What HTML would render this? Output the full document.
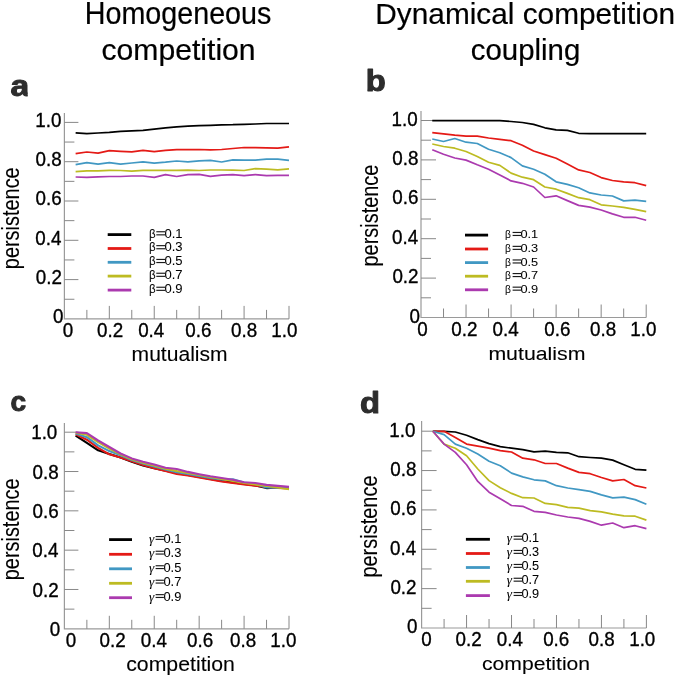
<!DOCTYPE html>
<html><head><meta charset="utf-8"><style>
html,body{margin:0;padding:0;background:#fff;}
body{width:675px;height:677px;overflow:hidden;}
svg{display:block;will-change:transform;font-family:"Liberation Sans", sans-serif;}
text{stroke:#000;stroke-width:0.35px;stroke-linejoin:round;}
text[font-weight]{stroke:none;}
.pl{stroke:#2d2d2d!important;stroke-width:1.0px;}
.lg{stroke-width:0.05px;}
.gm{font-family:"Liberation Serif",serif;font-style:italic;}
.ti{stroke-width:0.2px;}
.al{stroke-width:0.1px;}
</style></head><body>
<svg width="675" height="677" viewBox="0 0 675 677">
<rect width="675" height="677" fill="#fff"/>
<text class="ti" transform="translate(84.75,23.70) scale(0.9403,1)" font-size="30.52" fill="#000">Homogeneous</text>
<text class="ti" transform="translate(101.42,59.61) scale(1.0075,1)" font-size="29.94" fill="#000">competition</text>
<text class="ti" transform="translate(375.36,24.00) scale(0.9810,1)" font-size="30.38" fill="#000">Dynamical competition</text>
<text class="ti" transform="translate(470.75,59.70) scale(0.9874,1)" font-size="29.81" fill="#000">coupling</text>
<clipPath id="clipA"><rect x="0" y="60" width="27.70" height="50"/></clipPath>
<g clip-path="url(#clipA)"><text class="pl" transform="translate(10.61,96.12) scale(1.1699,1)" font-size="29.02" font-weight="bold" fill="#2d2d2d">a</text></g>
<text class="pl" transform="translate(365.64,90.52) scale(1.1396,1)" font-size="28.73" font-weight="bold" fill="#2d2d2d">b</text>
<text class="pl" transform="translate(10.50,411.43) scale(1.0123,1)" font-size="27.74" font-weight="bold" fill="#2d2d2d">c</text>
<text class="pl" transform="translate(359.96,413.42) scale(1.1343,1)" font-size="28.87" font-weight="bold" fill="#2d2d2d">d</text>
<path d="M64.40,113.00V318.90H289.00" fill="none" stroke="#9a9a9a" stroke-width="1.2"/>
<path d="M64.40,299.25h10M64.40,279.60h14M64.40,259.95h10M64.40,240.30h14M64.40,220.65h10M64.40,201.00h14M64.40,181.35h10M64.40,161.70h14M64.40,142.05h10M64.40,122.40h14M86.86,318.90v-9M109.32,318.90v-13M131.78,318.90v-9M154.24,318.90v-13M176.70,318.90v-9M199.16,318.90v-13M221.62,318.90v-9M244.08,318.90v-13M266.54,318.90v-9M289.00,318.90v-13" fill="none" stroke="#888888" stroke-width="1"/>
<path d="M421.00,111.00V317.50H646.20" fill="none" stroke="#9a9a9a" stroke-width="1.2"/>
<path d="M421.00,297.80h10M421.00,278.10h15M421.00,258.40h10M421.00,238.70h15M421.00,219.00h10M421.00,199.30h15M421.00,179.60h10M421.00,159.90h15M421.00,140.20h10M421.00,120.50h15M443.52,317.50v-9M466.04,317.50v-13M488.56,317.50v-9M511.08,317.50v-13M533.60,317.50v-9M556.12,317.50v-13M578.64,317.50v-9M601.16,317.50v-13M623.68,317.50v-9M646.20,317.50v-13" fill="none" stroke="#888888" stroke-width="1"/>
<path d="M64.40,423.00V628.80H289.00" fill="none" stroke="#9a9a9a" stroke-width="1.2"/>
<path d="M64.40,609.14h10M64.40,589.48h14M64.40,569.82h10M64.40,550.16h14M64.40,530.50h10M64.40,510.84h14M64.40,491.18h10M64.40,471.52h14M64.40,451.86h10M64.40,432.20h14M86.86,628.80v-9M109.32,628.80v-13M131.78,628.80v-9M154.24,628.80v-13M176.70,628.80v-9M199.16,628.80v-13M221.62,628.80v-9M244.08,628.80v-13M266.54,628.80v-9M289.00,628.80v-13" fill="none" stroke="#888888" stroke-width="1"/>
<path d="M421.60,421.00V628.00H646.40" fill="none" stroke="#9a9a9a" stroke-width="1.2"/>
<path d="M421.60,608.32h10M421.60,588.64h15M421.60,568.96h10M421.60,549.28h15M421.60,529.60h10M421.60,509.92h15M421.60,490.24h10M421.60,470.56h15M421.60,450.88h10M421.60,431.20h15M444.08,628.00v-9M466.56,628.00v-13M489.04,628.00v-9M511.52,628.00v-13M534.00,628.00v-9M556.48,628.00v-13M578.96,628.00v-9M601.44,628.00v-13M623.92,628.00v-9M646.40,628.00v-13" fill="none" stroke="#888888" stroke-width="1"/>
<text transform="translate(53.07,323.20) scale(0.9600,1)" font-size="19.60" fill="#000">0</text>
<text transform="translate(35.69,283.90) scale(0.9600,1)" font-size="19.60" fill="#000">0.2</text>
<text transform="translate(35.29,244.60) scale(0.9600,1)" font-size="19.60" fill="#000">0.4</text>
<text transform="translate(35.57,205.30) scale(0.9600,1)" font-size="19.60" fill="#000">0.6</text>
<text transform="translate(35.56,166.00) scale(0.9600,1)" font-size="19.60" fill="#000">0.8</text>
<text transform="translate(35.28,126.70) scale(0.9600,1)" font-size="19.60" fill="#000">1.0</text>
<text transform="translate(409.47,322.50) scale(0.9600,1)" font-size="19.60" fill="#000">0</text>
<text transform="translate(392.39,283.10) scale(0.9600,1)" font-size="19.60" fill="#000">0.2</text>
<text transform="translate(391.99,243.70) scale(0.9600,1)" font-size="19.60" fill="#000">0.4</text>
<text transform="translate(392.27,204.30) scale(0.9600,1)" font-size="19.60" fill="#000">0.6</text>
<text transform="translate(392.26,164.90) scale(0.9600,1)" font-size="19.60" fill="#000">0.8</text>
<text transform="translate(391.58,125.50) scale(0.9600,1)" font-size="19.60" fill="#000">1.0</text>
<text transform="translate(49.87,635.90) scale(0.9600,1)" font-size="19.60" fill="#000">0</text>
<text transform="translate(32.59,596.58) scale(0.9600,1)" font-size="19.60" fill="#000">0.2</text>
<text transform="translate(32.19,557.26) scale(0.9600,1)" font-size="19.60" fill="#000">0.4</text>
<text transform="translate(32.47,517.94) scale(0.9600,1)" font-size="19.60" fill="#000">0.6</text>
<text transform="translate(32.46,478.62) scale(0.9600,1)" font-size="19.60" fill="#000">0.8</text>
<text transform="translate(31.18,439.30) scale(0.9600,1)" font-size="19.60" fill="#000">1.0</text>
<text transform="translate(407.07,633.40) scale(0.9600,1)" font-size="19.60" fill="#000">0</text>
<text transform="translate(390.39,594.04) scale(0.9600,1)" font-size="19.60" fill="#000">0.2</text>
<text transform="translate(389.99,554.68) scale(0.9600,1)" font-size="19.60" fill="#000">0.4</text>
<text transform="translate(390.27,515.32) scale(0.9600,1)" font-size="19.60" fill="#000">0.6</text>
<text transform="translate(390.26,475.96) scale(0.9600,1)" font-size="19.60" fill="#000">0.8</text>
<text transform="translate(389.28,436.60) scale(0.9600,1)" font-size="19.60" fill="#000">1.0</text>
<text transform="translate(62.77,336.61) scale(0.9600,1)" font-size="19.60" fill="#000">0</text>
<text transform="translate(96.97,336.61) scale(0.9600,1)" font-size="19.60" fill="#000">0.2</text>
<text transform="translate(138.16,336.61) scale(0.9600,1)" font-size="19.60" fill="#000">0.4</text>
<text transform="translate(185.26,336.61) scale(0.9600,1)" font-size="19.60" fill="#000">0.6</text>
<text transform="translate(231.06,336.61) scale(0.9600,1)" font-size="19.60" fill="#000">0.8</text>
<text transform="translate(271.27,336.61) scale(0.9600,1)" font-size="19.60" fill="#000">1.0</text>
<text transform="translate(417.26,335.81) scale(0.9600,1)" font-size="19.60" fill="#000">0</text>
<text transform="translate(451.37,335.81) scale(0.9600,1)" font-size="19.60" fill="#000">0.2</text>
<text transform="translate(492.46,335.81) scale(0.9600,1)" font-size="19.60" fill="#000">0.4</text>
<text transform="translate(544.26,335.81) scale(0.9600,1)" font-size="19.60" fill="#000">0.6</text>
<text transform="translate(589.97,335.81) scale(0.9600,1)" font-size="19.60" fill="#000">0.8</text>
<text transform="translate(630.27,335.81) scale(0.9600,1)" font-size="19.60" fill="#000">1.0</text>
<text transform="translate(65.86,647.01) scale(0.9600,1)" font-size="19.60" fill="#000">0</text>
<text transform="translate(99.56,647.01) scale(0.9600,1)" font-size="19.60" fill="#000">0.2</text>
<text transform="translate(140.86,647.01) scale(0.9600,1)" font-size="19.60" fill="#000">0.4</text>
<text transform="translate(186.96,647.01) scale(0.9600,1)" font-size="19.60" fill="#000">0.6</text>
<text transform="translate(229.96,647.01) scale(0.9600,1)" font-size="19.60" fill="#000">0.8</text>
<text transform="translate(270.27,647.01) scale(0.9600,1)" font-size="19.60" fill="#000">1.0</text>
<text transform="translate(421.37,645.91) scale(0.9600,1)" font-size="19.60" fill="#000">0</text>
<text transform="translate(455.46,645.91) scale(0.9600,1)" font-size="19.60" fill="#000">0.2</text>
<text transform="translate(496.76,645.91) scale(0.9600,1)" font-size="19.60" fill="#000">0.4</text>
<text transform="translate(543.16,645.91) scale(0.9600,1)" font-size="19.60" fill="#000">0.6</text>
<text transform="translate(588.56,645.91) scale(0.9600,1)" font-size="19.60" fill="#000">0.8</text>
<text transform="translate(629.17,645.91) scale(0.9600,1)" font-size="19.60" fill="#000">1.0</text>
<text class="al" transform="translate(131.60,361.00) scale(1.0703,1)" font-size="19.70" fill="#000">mutualism</text>
<text class="al" transform="translate(488.38,359.70) scale(1.1242,1)" font-size="18.96" fill="#000">mutualism</text>
<text class="al" transform="translate(126.20,670.61) scale(1.0891,1)" font-size="19.53" fill="#000">competition</text>
<text class="al" transform="translate(482.00,670.01) scale(1.1036,1)" font-size="19.17" fill="#000">competition</text>
<text class="al" transform="translate(18.67,269.18) rotate(-90) scale(0.8593,1)" font-size="23.18">persistence</text>
<text class="al" transform="translate(377.57,266.49) rotate(-90) scale(0.8601,1)" font-size="23.18">persistence</text>
<text class="al" transform="translate(19.37,580.29) rotate(-90) scale(0.8601,1)" font-size="23.18">persistence</text>
<text class="al" transform="translate(377.47,577.59) rotate(-90) scale(0.8355,1)" font-size="23.91">persistence</text>
<line x1="107.70" y1="234.60" x2="131.30" y2="234.60" stroke="#000000" stroke-width="2.8"/>
<text class="lg" transform="translate(148.90,237.57) scale(0.9,1)" font-size="12.86">β</text>
<rect x="156.30" y="231.17" width="8.70" height="1.15" fill="#1a1a1a"/>
<rect x="156.30" y="234.27" width="8.70" height="1.15" fill="#1a1a1a"/>
<text class="lg" transform="translate(164.49,237.57) scale(1.0154,1)" font-size="12.86">0.1</text>
<line x1="107.70" y1="248.50" x2="131.30" y2="248.50" stroke="#e41a16" stroke-width="2.8"/>
<text class="lg" transform="translate(148.90,251.47) scale(0.9,1)" font-size="12.86">β</text>
<rect x="156.30" y="245.07" width="8.70" height="1.15" fill="#1a1a1a"/>
<rect x="156.30" y="248.17" width="8.70" height="1.15" fill="#1a1a1a"/>
<text class="lg" transform="translate(164.49,251.47) scale(1.0154,1)" font-size="12.86">0.3</text>
<line x1="107.70" y1="262.30" x2="131.30" y2="262.30" stroke="#4198c3" stroke-width="2.8"/>
<text class="lg" transform="translate(148.90,265.27) scale(0.9,1)" font-size="12.86">β</text>
<rect x="156.30" y="258.87" width="8.70" height="1.15" fill="#1a1a1a"/>
<rect x="156.30" y="261.97" width="8.70" height="1.15" fill="#1a1a1a"/>
<text class="lg" transform="translate(164.49,265.27) scale(1.0154,1)" font-size="12.86">0.5</text>
<line x1="107.70" y1="276.10" x2="131.30" y2="276.10" stroke="#bdbb22" stroke-width="2.8"/>
<text class="lg" transform="translate(148.90,279.07) scale(0.9,1)" font-size="12.86">β</text>
<rect x="156.30" y="272.67" width="8.70" height="1.15" fill="#1a1a1a"/>
<rect x="156.30" y="275.77" width="8.70" height="1.15" fill="#1a1a1a"/>
<text class="lg" transform="translate(164.49,279.07) scale(1.0154,1)" font-size="12.86">0.7</text>
<line x1="107.70" y1="290.10" x2="131.30" y2="290.10" stroke="#ab3aaf" stroke-width="2.8"/>
<text class="lg" transform="translate(148.90,293.07) scale(0.9,1)" font-size="12.86">β</text>
<rect x="156.30" y="286.67" width="8.70" height="1.15" fill="#1a1a1a"/>
<rect x="156.30" y="289.77" width="8.70" height="1.15" fill="#1a1a1a"/>
<text class="lg" transform="translate(164.49,293.07) scale(1.0154,1)" font-size="12.86">0.9</text>
<line x1="465.00" y1="235.10" x2="488.10" y2="235.10" stroke="#000000" stroke-width="2.8"/>
<text class="lg" transform="translate(504.99,238.19) scale(0.9,1)" font-size="11.30">β</text>
<rect x="512.60" y="231.89" width="8.40" height="1.15" fill="#1a1a1a"/>
<rect x="512.60" y="234.89" width="8.40" height="1.15" fill="#1a1a1a"/>
<text class="lg" transform="translate(520.50,238.19) scale(1.1278,1)" font-size="11.30">0.1</text>
<line x1="465.00" y1="249.00" x2="488.10" y2="249.00" stroke="#e41a16" stroke-width="2.8"/>
<text class="lg" transform="translate(504.99,252.09) scale(0.9,1)" font-size="11.30">β</text>
<rect x="512.60" y="245.79" width="8.40" height="1.15" fill="#1a1a1a"/>
<rect x="512.60" y="248.79" width="8.40" height="1.15" fill="#1a1a1a"/>
<text class="lg" transform="translate(520.50,252.09) scale(1.1278,1)" font-size="11.30">0.3</text>
<line x1="465.00" y1="262.60" x2="488.10" y2="262.60" stroke="#4198c3" stroke-width="2.8"/>
<text class="lg" transform="translate(504.99,265.69) scale(0.9,1)" font-size="11.30">β</text>
<rect x="512.60" y="259.39" width="8.40" height="1.15" fill="#1a1a1a"/>
<rect x="512.60" y="262.39" width="8.40" height="1.15" fill="#1a1a1a"/>
<text class="lg" transform="translate(520.50,265.69) scale(1.1278,1)" font-size="11.30">0.5</text>
<line x1="465.00" y1="276.20" x2="488.10" y2="276.20" stroke="#bdbb22" stroke-width="2.8"/>
<text class="lg" transform="translate(504.99,279.29) scale(0.9,1)" font-size="11.30">β</text>
<rect x="512.60" y="272.99" width="8.40" height="1.15" fill="#1a1a1a"/>
<rect x="512.60" y="275.99" width="8.40" height="1.15" fill="#1a1a1a"/>
<text class="lg" transform="translate(520.50,279.29) scale(1.1278,1)" font-size="11.30">0.7</text>
<line x1="465.00" y1="289.80" x2="488.10" y2="289.80" stroke="#ab3aaf" stroke-width="2.8"/>
<text class="lg" transform="translate(504.99,292.89) scale(0.9,1)" font-size="11.30">β</text>
<rect x="512.60" y="286.59" width="8.40" height="1.15" fill="#1a1a1a"/>
<rect x="512.60" y="289.59" width="8.40" height="1.15" fill="#1a1a1a"/>
<text class="lg" transform="translate(520.50,292.89) scale(1.1278,1)" font-size="11.30">0.9</text>
<line x1="109.10" y1="539.60" x2="132.00" y2="539.60" stroke="#000000" stroke-width="2.8"/>
<text class="lg gm" transform="translate(149.00,542.58)" font-size="13.35">γ</text>
<rect x="155.60" y="535.98" width="8.30" height="1.15" fill="#1a1a1a"/>
<rect x="155.60" y="538.78" width="8.30" height="1.15" fill="#1a1a1a"/>
<text class="lg" transform="translate(163.40,542.58) scale(1.0146,1)" font-size="12.72">0.1</text>
<line x1="109.10" y1="554.30" x2="132.00" y2="554.30" stroke="#e41a16" stroke-width="2.8"/>
<text class="lg gm" transform="translate(149.00,557.28)" font-size="13.35">γ</text>
<rect x="155.60" y="550.68" width="8.30" height="1.15" fill="#1a1a1a"/>
<rect x="155.60" y="553.48" width="8.30" height="1.15" fill="#1a1a1a"/>
<text class="lg" transform="translate(163.40,557.28) scale(1.0146,1)" font-size="12.72">0.3</text>
<line x1="109.10" y1="568.80" x2="132.00" y2="568.80" stroke="#4198c3" stroke-width="2.8"/>
<text class="lg gm" transform="translate(149.00,571.78)" font-size="13.35">γ</text>
<rect x="155.60" y="565.18" width="8.30" height="1.15" fill="#1a1a1a"/>
<rect x="155.60" y="567.98" width="8.30" height="1.15" fill="#1a1a1a"/>
<text class="lg" transform="translate(163.40,571.78) scale(1.0146,1)" font-size="12.72">0.5</text>
<line x1="109.10" y1="583.30" x2="132.00" y2="583.30" stroke="#bdbb22" stroke-width="2.8"/>
<text class="lg gm" transform="translate(149.00,586.28)" font-size="13.35">γ</text>
<rect x="155.60" y="579.68" width="8.30" height="1.15" fill="#1a1a1a"/>
<rect x="155.60" y="582.48" width="8.30" height="1.15" fill="#1a1a1a"/>
<text class="lg" transform="translate(163.40,586.28) scale(1.0146,1)" font-size="12.72">0.7</text>
<line x1="109.10" y1="597.70" x2="132.00" y2="597.70" stroke="#ab3aaf" stroke-width="2.8"/>
<text class="lg gm" transform="translate(149.00,600.68)" font-size="13.35">γ</text>
<rect x="155.60" y="594.08" width="8.30" height="1.15" fill="#1a1a1a"/>
<rect x="155.60" y="596.88" width="8.30" height="1.15" fill="#1a1a1a"/>
<text class="lg" transform="translate(163.40,600.68) scale(1.0146,1)" font-size="12.72">0.9</text>
<line x1="465.90" y1="539.30" x2="489.90" y2="539.30" stroke="#000000" stroke-width="2.8"/>
<text class="lg gm" transform="translate(506.70,542.18)" font-size="13.35">γ</text>
<rect x="513.60" y="535.68" width="8.40" height="1.15" fill="#1a1a1a"/>
<rect x="513.60" y="538.58" width="8.40" height="1.15" fill="#1a1a1a"/>
<text class="lg" transform="translate(521.50,542.18) scale(1.0025,1)" font-size="12.72">0.1</text>
<line x1="465.90" y1="553.50" x2="489.90" y2="553.50" stroke="#e41a16" stroke-width="2.8"/>
<text class="lg gm" transform="translate(506.70,556.38)" font-size="13.35">γ</text>
<rect x="513.60" y="549.88" width="8.40" height="1.15" fill="#1a1a1a"/>
<rect x="513.60" y="552.78" width="8.40" height="1.15" fill="#1a1a1a"/>
<text class="lg" transform="translate(521.50,556.38) scale(1.0025,1)" font-size="12.72">0.3</text>
<line x1="465.90" y1="567.50" x2="489.90" y2="567.50" stroke="#4198c3" stroke-width="2.8"/>
<text class="lg gm" transform="translate(506.70,570.38)" font-size="13.35">γ</text>
<rect x="513.60" y="563.88" width="8.40" height="1.15" fill="#1a1a1a"/>
<rect x="513.60" y="566.78" width="8.40" height="1.15" fill="#1a1a1a"/>
<text class="lg" transform="translate(521.50,570.38) scale(1.0025,1)" font-size="12.72">0.5</text>
<line x1="465.90" y1="581.30" x2="489.90" y2="581.30" stroke="#bdbb22" stroke-width="2.8"/>
<text class="lg gm" transform="translate(506.70,584.18)" font-size="13.35">γ</text>
<rect x="513.60" y="577.68" width="8.40" height="1.15" fill="#1a1a1a"/>
<rect x="513.60" y="580.58" width="8.40" height="1.15" fill="#1a1a1a"/>
<text class="lg" transform="translate(521.50,584.18) scale(1.0025,1)" font-size="12.72">0.7</text>
<line x1="465.90" y1="595.60" x2="489.90" y2="595.60" stroke="#ab3aaf" stroke-width="2.8"/>
<text class="lg gm" transform="translate(506.70,598.48)" font-size="13.35">γ</text>
<rect x="513.60" y="591.98" width="8.40" height="1.15" fill="#1a1a1a"/>
<rect x="513.60" y="594.88" width="8.40" height="1.15" fill="#1a1a1a"/>
<text class="lg" transform="translate(521.50,598.48) scale(1.0025,1)" font-size="12.72">0.9</text>
<polyline points="75.63,132.80 86.86,133.60 98.09,133.00 109.32,132.30 120.55,131.30 131.78,130.90 143.01,130.40 154.24,129.10 165.47,127.90 176.70,126.80 187.93,126.20 199.16,125.70 210.39,125.30 221.62,124.80 232.85,124.70 244.08,124.30 255.31,124.00 266.54,123.50 277.77,123.50 289.00,123.50" fill="none" stroke="#000000" stroke-width="1.7" stroke-linejoin="round"/>
<polyline points="75.63,153.70 86.86,152.00 98.09,153.20 109.32,150.70 120.55,151.40 131.78,151.90 143.01,150.30 154.24,151.60 165.47,150.40 176.70,149.60 187.93,149.70 199.16,149.50 210.39,149.90 221.62,149.50 232.85,148.50 244.08,147.50 255.31,147.60 266.54,147.80 277.77,148.20 289.00,146.80" fill="none" stroke="#e41a16" stroke-width="1.7" stroke-linejoin="round"/>
<polyline points="75.63,164.60 86.86,162.60 98.09,164.10 109.32,162.60 120.55,164.10 131.78,163.00 143.01,161.80 154.24,163.10 165.47,162.20 176.70,161.00 187.93,161.80 199.16,160.90 210.39,160.40 221.62,162.00 232.85,159.90 244.08,160.10 255.31,160.10 266.54,159.10 277.77,159.20 289.00,160.30" fill="none" stroke="#4198c3" stroke-width="1.7" stroke-linejoin="round"/>
<polyline points="75.63,171.60 86.86,170.80 98.09,170.80 109.32,170.30 120.55,170.50 131.78,171.10 143.01,170.30 154.24,170.30 165.47,170.30 176.70,170.30 187.93,170.10 199.16,170.50 210.39,170.00 221.62,170.00 232.85,170.10 244.08,170.50 255.31,168.60 266.54,169.10 277.77,169.80 289.00,168.80" fill="none" stroke="#bdbb22" stroke-width="1.7" stroke-linejoin="round"/>
<polyline points="75.63,177.00 86.86,177.30 98.09,176.80 109.32,176.50 120.55,176.50 131.78,176.00 143.01,176.00 154.24,177.30 165.47,174.70 176.70,176.50 187.93,174.70 199.16,174.40 210.39,176.40 221.62,175.20 232.85,174.70 244.08,175.60 255.31,174.60 266.54,175.60 277.77,175.40 289.00,175.40" fill="none" stroke="#ab3aaf" stroke-width="1.7" stroke-linejoin="round"/>
<polyline points="432.26,120.60 443.52,120.60 454.78,120.60 466.04,120.60 477.30,120.60 488.56,120.60 499.82,120.60 511.08,121.50 522.34,122.50 533.60,124.40 544.86,127.80 556.12,129.90 567.38,130.40 578.64,133.30 589.90,133.60 601.16,133.60 612.42,133.60 623.68,133.60 634.94,133.60 646.20,133.60" fill="none" stroke="#000000" stroke-width="1.7" stroke-linejoin="round"/>
<polyline points="432.26,132.60 443.52,133.90 454.78,135.20 466.04,136.10 477.30,136.10 488.56,138.00 499.82,139.40 511.08,140.70 522.34,145.20 533.60,151.00 544.86,154.60 556.12,158.30 567.38,164.00 578.64,169.90 589.90,172.50 601.16,177.60 612.42,180.50 623.68,181.80 634.94,182.70 646.20,185.60" fill="none" stroke="#e41a16" stroke-width="1.7" stroke-linejoin="round"/>
<polyline points="432.26,139.00 443.52,141.50 454.78,138.50 466.04,142.20 477.30,143.50 488.56,149.30 499.82,152.70 511.08,157.60 522.34,165.90 533.60,169.20 544.86,174.20 556.12,181.80 567.38,184.40 578.64,187.80 589.90,192.90 601.16,195.00 612.42,196.00 623.68,200.90 634.94,200.20 646.20,201.40" fill="none" stroke="#4198c3" stroke-width="1.7" stroke-linejoin="round"/>
<polyline points="432.26,144.00 443.52,146.50 454.78,148.20 466.04,151.50 477.30,156.50 488.56,162.30 499.82,165.40 511.08,173.10 522.34,177.20 533.60,179.70 544.86,187.00 556.12,189.20 567.38,193.40 578.64,197.70 589.90,199.70 601.16,204.80 612.42,206.00 623.68,207.40 634.94,209.40 646.20,211.70" fill="none" stroke="#bdbb22" stroke-width="1.7" stroke-linejoin="round"/>
<polyline points="432.26,149.80 443.52,154.30 454.78,158.00 466.04,160.10 477.30,164.80 488.56,169.20 499.82,175.00 511.08,180.90 522.34,183.30 533.60,187.00 544.86,197.50 556.12,195.80 567.38,200.60 578.64,205.40 589.90,207.10 601.16,210.00 612.42,213.90 623.68,217.30 634.94,217.30 646.20,220.20" fill="none" stroke="#ab3aaf" stroke-width="1.7" stroke-linejoin="round"/>
<polyline points="75.63,435.60 86.86,442.90 98.09,450.30 109.32,454.00 120.55,457.60 131.78,461.70 143.01,465.40 154.24,468.20 165.47,470.60 176.70,473.10 187.93,475.00 199.16,477.00 210.39,479.00 221.62,481.00 232.85,482.50 244.08,484.00 255.31,485.50 266.54,488.10 277.77,487.50 289.00,487.80" fill="none" stroke="#000000" stroke-width="2.1" stroke-linejoin="round"/>
<polyline points="75.63,434.30 86.86,439.70 98.09,447.80 109.32,454.30 120.55,457.60 131.78,461.20 143.01,464.90 154.24,468.20 165.47,471.10 176.70,473.90 187.93,475.50 199.16,477.50 210.39,479.50 221.62,481.50 232.85,483.00 244.08,484.50 255.31,485.70 266.54,487.00 277.77,488.00 289.00,488.50" fill="none" stroke="#e41a16" stroke-width="2.1" stroke-linejoin="round"/>
<polyline points="75.63,433.50 86.86,437.20 98.09,445.40 109.32,451.10 120.55,455.20 131.78,460.00 143.01,463.60 154.24,466.60 165.47,469.50 176.70,472.30 187.93,474.00 199.16,476.00 210.39,478.00 221.62,479.50 232.85,479.20 244.08,482.50 255.31,484.00 266.54,487.50 277.77,487.80 289.00,487.50" fill="none" stroke="#4198c3" stroke-width="2.1" stroke-linejoin="round"/>
<polyline points="75.63,432.70 86.86,434.80 98.09,442.10 109.32,448.60 120.55,454.30 131.78,459.20 143.01,462.80 154.24,465.40 165.47,468.70 176.70,471.00 187.93,473.00 199.16,475.00 210.39,477.00 221.62,479.00 232.85,481.00 244.08,483.00 255.31,484.50 266.54,486.00 277.77,487.50 289.00,489.30" fill="none" stroke="#bdbb22" stroke-width="2.1" stroke-linejoin="round"/>
<polyline points="75.63,432.30 86.86,433.10 98.09,440.50 109.32,447.00 120.55,453.50 131.78,458.40 143.01,461.70 154.24,464.40 165.47,467.70 176.70,469.00 187.93,471.90 199.16,474.20 210.39,476.30 221.62,478.00 232.85,479.80 244.08,482.20 255.31,483.00 266.54,484.90 277.77,485.90 289.00,486.90" fill="none" stroke="#ab3aaf" stroke-width="2.1" stroke-linejoin="round"/>
<polyline points="432.84,431.30 444.08,431.30 455.32,432.00 466.56,435.30 477.80,439.60 489.04,443.60 500.28,446.60 511.52,448.20 522.76,449.60 534.00,451.90 545.24,451.10 556.48,452.40 567.72,452.80 578.96,456.70 590.20,457.50 601.44,458.20 612.68,460.10 623.92,464.70 635.16,469.30 646.40,470.20" fill="none" stroke="#000000" stroke-width="1.7" stroke-linejoin="round"/>
<polyline points="432.84,431.30 444.08,431.30 455.32,437.40 466.56,444.10 477.80,446.20 489.04,448.20 500.28,450.70 511.52,452.00 522.76,458.20 534.00,459.80 545.24,463.50 556.48,463.50 567.72,468.10 578.96,472.40 590.20,473.70 601.44,477.50 612.68,480.90 623.92,479.50 635.16,485.70 646.40,488.00" fill="none" stroke="#e41a16" stroke-width="1.7" stroke-linejoin="round"/>
<polyline points="432.84,431.30 444.08,434.60 455.32,444.10 466.56,448.20 477.80,454.00 489.04,461.20 500.28,465.70 511.52,473.10 522.76,476.90 534.00,479.80 545.24,480.90 556.48,485.70 567.72,488.00 578.96,489.70 590.20,491.40 601.44,494.90 612.68,497.90 623.92,497.10 635.16,499.60 646.40,504.20" fill="none" stroke="#4198c3" stroke-width="1.7" stroke-linejoin="round"/>
<polyline points="432.84,431.30 444.08,444.10 455.32,448.20 466.56,455.70 477.80,469.00 489.04,480.60 500.28,487.70 511.52,493.40 522.76,497.70 534.00,498.00 545.24,503.40 556.48,504.70 567.72,507.30 578.96,508.10 590.20,510.70 601.44,511.90 612.68,514.10 623.92,515.80 635.16,516.20 646.40,520.10" fill="none" stroke="#bdbb22" stroke-width="1.7" stroke-linejoin="round"/>
<polyline points="432.84,431.30 444.08,444.10 455.32,452.40 466.56,464.80 477.80,481.40 489.04,492.20 500.28,498.80 511.52,505.50 522.76,506.30 534.00,511.30 545.24,512.40 556.48,515.00 567.72,517.00 578.96,518.40 590.20,521.40 601.44,525.20 612.68,523.00 623.92,527.70 635.16,525.70 646.40,528.60" fill="none" stroke="#ab3aaf" stroke-width="1.7" stroke-linejoin="round"/>
</svg>
</body></html>
